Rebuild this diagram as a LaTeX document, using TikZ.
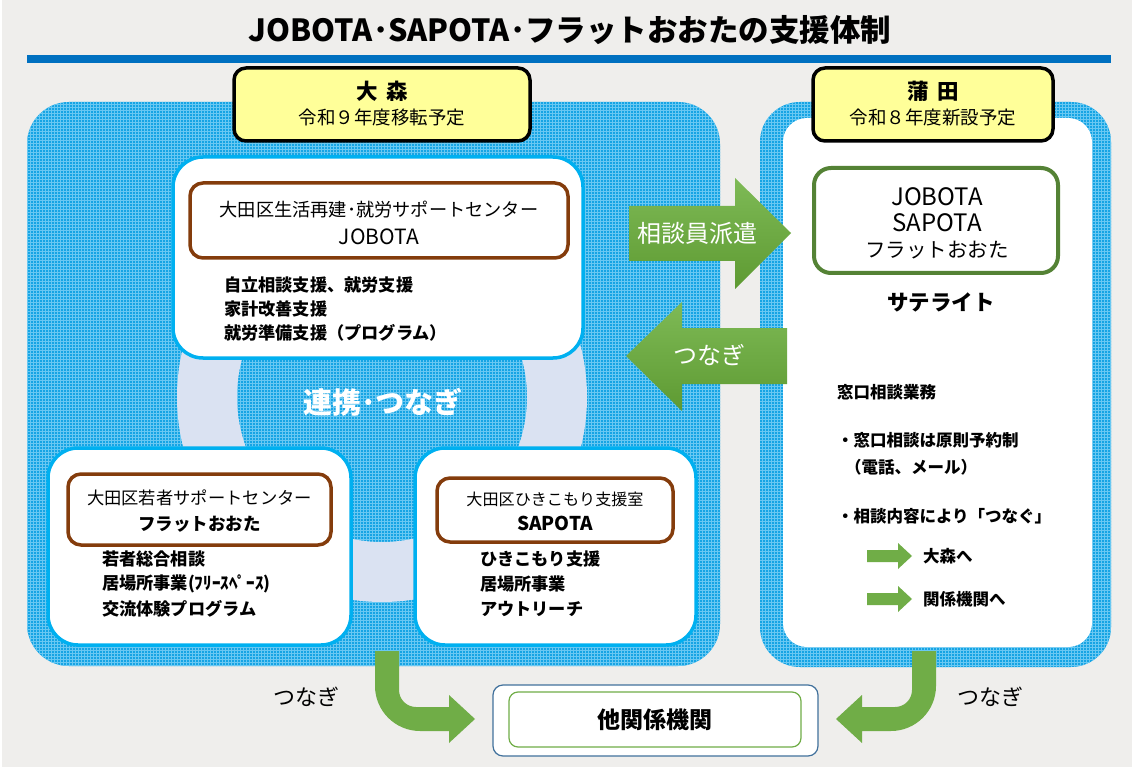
\documentclass[tikz,border=0pt]{standalone}
\usepackage{fontspec}
\setmainfont{Noto Sans CJK JP}
\usetikzlibrary{patterns,calc}
\definecolor{bgc}{RGB}{239,238,236}
\definecolor{barblue}{RGB}{0,112,192}
\definecolor{pbase}{RGB}{22,164,228}
\definecolor{plight}{RGB}{105,200,242}
\definecolor{ringc}{RGB}{218,226,242}
\definecolor{cyanb}{RGB}{0,176,240}
\definecolor{brownb}{RGB}{132,60,12}
\definecolor{yel}{RGB}{255,255,153}
\definecolor{grn}{RGB}{112,173,71}
\definecolor{grntop}{RGB}{126,186,86}
\definecolor{grnbot}{RGB}{94,154,50}
\definecolor{grnbox}{RGB}{84,130,53}
\definecolor{navyb}{RGB}{65,113,156}
\newcommand\fz[1]{\fontsize{#1}{#1}\selectfont}
\begin{document}
\begin{tikzpicture}[x=1pt,y=-1pt,
  every node/.style={inner sep=0pt,outer sep=0pt},
  panelbox/.style={rounded corners=40pt, preaction={fill=pbase}, pattern=grid, pattern color=plight},
  whitebox/.style={draw=cyanb, line width=3.5pt, fill=white, rounded corners=30pt},
  brownbox/.style={draw=brownb, line width=3.5pt, fill=white, rounded corners=13pt},
  yelbox/.style={draw=black, line width=3.5pt, fill=yel, rounded corners=12pt},
  greenbox/.style={draw=grnbox, line width=4pt, fill=white, rounded corners=17pt},
  blockarrow/.style={top color=grntop, bottom color=grnbot, draw=none},
  flatarrow/.style={fill=grn, draw=none},
  item/.style={anchor=west, font=\fz{17.2}\bfseries},
  ritem/.style={anchor=west, font=\fz{16.5}\bfseries},
  arrowtxt/.style={text=white, font=\fz{24}},
]
\useasboundingbox (0,0) rectangle (1132,767);
\fill[bgc] (0,0) rectangle (1132,767);
\fill[white] (0,0) rectangle (2,767);

% title
\node[font=\fz{30.5}\bfseries] (title) at (570,30) {JOBOTA･SAPOTA･フラットおおたの支援体制};
\fill[barblue] (27,55) rectangle (1111,63);

% panels
\node[panelbox, rounded corners=42pt, minimum width=693pt, minimum height=564pt] (omori) at (373.5,384) {};
\node[panelbox, minimum width=351pt, minimum height=565pt] (kamata) at (935.5,384.5) {};
\node[fill=white, rounded corners=24pt, minimum width=309pt, minimum height=529pt] (kamatain) at (937.5,382.5) {};

% ring
\fill[ringc, even odd rule] (382,397) circle[radius=205pt] (382,397) circle[radius=145pt];

% JOBOTA box
\node[whitebox, minimum width=410pt, minimum height=201pt] (jbox) at (378,257.5) {};
\node[brownbox, minimum width=378pt, minimum height=75pt] (jname) at (379,220.5) {};
\node[font=\fz{18.2}] (jl1) at (379,210) {大田区生活再建･就労サポートセンター};
\node[font=\fz{21}] (jl2) at (379,237) {JOBOTA};
\node[item] (ji1) at (224,285) {自立相談支援、就労支援};
\node[item] (ji2) at (224,309) {家計改善支援};
\node[item] (ji3) at (224,333) {就労準備支援（プログラム）};

% linkage text
\node[text=white, font=\fz{29}\bfseries] (renkei) at (383,402) {連携･つなぎ};

% bottom-left box
\node[whitebox, minimum width=303pt, minimum height=197pt] (fbox) at (199.5,546.5) {};
\node[brownbox, minimum width=263pt, minimum height=71pt] (fname) at (199.5,509.5) {};
\node[font=\fz{17.3}] (fl1) at (199.5,498) {大田区若者サポートセンター};
\node[font=\fz{17.5}\bfseries] (fl2) at (199.5,524) {フラットおおた};
\node[item] (fi1) at (102,559) {若者総合相談};
\node[item] (fi2) at (102,584) {居場所事業(ﾌﾘｰｽﾍﾟｰｽ)};
\node[item] (fi3) at (102,609) {交流体験プログラム};

% bottom-right box
\node[whitebox, minimum width=281pt, minimum height=197pt] (sbox) at (555.5,546.5) {};
\node[brownbox, minimum width=236pt, minimum height=64pt] (sname) at (555,510) {};
\node[font=\fz{16.1}] (sl1) at (555,499) {大田区ひきこもり支援室};
\node[font=\fz{19}\bfseries] (sl2) at (555,523) {SAPOTA};
\node[item] (si1) at (480,559) {ひきこもり支援};
\node[item] (si2) at (480,584) {居場所事業};
\node[item] (si3) at (480,609) {アウトリーチ};

% yellow labels
\node[yelbox, minimum width=296pt, minimum height=73pt] (ylab) at (382,104.5) {};
\node[font=\fz{21.5}\bfseries] (yl1) at (382,91) {大\hspace{9pt}森};
\node[font=\fz{18.5}] (yl2) at (382,117) {令和９年度移転予定};
\node[yelbox, minimum width=240pt, minimum height=73pt] (klab) at (933,104.5) {};
\node[font=\fz{21.5}\bfseries] (kl1) at (933,91) {蒲\hspace{9pt}田};
\node[font=\fz{18.5}] (kl2) at (933,117) {令和８年度新設予定};

% satellite box
\node[greenbox, minimum width=244pt, minimum height=105pt] (gbox) at (936,220.5) {};
\node[font=\fz{24}] (gl1) at (937,197) {JOBOTA};
\node[font=\fz{24}] (gl2) at (937,223) {SAPOTA};
\node[font=\fz{20.5}] (gl3) at (937,250) {フラットおおた};
\node[font=\fz{21.5}\bfseries] (sat) at (941,302) {サテライト};

% right panel texts
\node[ritem] (r1) at (837,392) {窓口相談業務};
\node[ritem] (r2) at (837,440) {・窓口相談は原則予約制};
\node[ritem] (r3) at (845,467) {（電話、メール）};
\node[ritem] (r4) at (837,516) {・相談内容により「つなぐ」};
\node[ritem] (r5) at (923,556) {大森へ};
\node[ritem] (r6) at (923,599) {関係機関へ};
\coordinate (a1) at (867,556);
\coordinate (a2) at (867,599);
\fill[flatarrow] ($(a1)+(0,-6)$) -- ++(31,0) -- ++(0,-7) -- ($(a1)+(45,0)$) -- ($(a1)+(31,13)$) -- ++(0,-7) -- ($(a1)+(0,6)$) -- cycle;
\fill[flatarrow] ($(a2)+(0,-6)$) -- ++(31,0) -- ++(0,-7) -- ($(a2)+(45,0)$) -- ($(a2)+(31,13)$) -- ++(0,-7) -- ($(a2)+(0,6)$) -- cycle;

% big arrows
\path[blockarrow] (629,206) -- (735,206) -- (735,178) -- (791,233) -- (735,289) -- (735,261) -- (629,261) -- cycle;
\node[arrowtxt] (haken) at (697,233) {相談員派遣};
\path[blockarrow] (787,328) -- (682,328) -- (682,302) -- (626,356) -- (682,411) -- (682,384) -- (787,384) -- cycle;
\node[arrowtxt] (tsunagi) at (709,355) {つなぎ};

% other organisations
\node[draw=navyb, line width=1.2pt, fill=white, rounded corners=10pt, minimum width=325pt, minimum height=71pt] (other) at (655.5,720.5) {};
\node[draw=grn, line width=1.2pt, fill=white, rounded corners=9pt, minimum width=292pt, minimum height=55pt] (otherin) at (655,719.5) {};
\node[font=\fz{23}\bfseries] (othert) at (655,720) {他関係機関};

% bent arrows
\fill[flatarrow] (375,651) -- (399,651) -- (399,690) .. controls (399,699.4) and (406.6,707) .. (416,707) -- (449,707) -- (449,695) -- (475,719) -- (449,743) -- (449,731) -- (420,731) .. controls (395.2,731) and (375,710.8) .. (375,686) -- cycle;
\fill[flatarrow] (936,651) -- (912,651) -- (912,690) .. controls (912,699.4) and (904.4,707) .. (895,707) -- (862,707) -- (862,695) -- (836,719) -- (862,743) -- (862,731) -- (891,731) .. controls (915.8,731) and (936,710.8) .. (936,686) -- cycle;
\node[font=\fz{22}] (tl) at (306,697) {つなぎ};
\node[font=\fz{22}] (tr) at (990,697) {つなぎ};
\end{tikzpicture}
\end{document}
